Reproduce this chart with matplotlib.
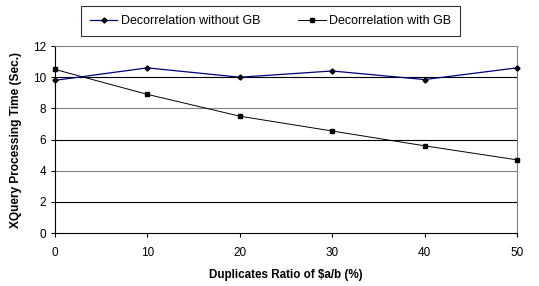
import matplotlib
matplotlib.use("Agg")
import matplotlib.pyplot as plt

plt.rcParams['font.family'] = ['Liberation Sans', 'DejaVu Sans']

ratios = [0, 10, 20, 30, 40, 50]
without_gb = [9.8, 10.6, 10.0, 10.4, 9.85, 10.6]
with_gb = [10.5, 8.9, 7.5, 6.55, 5.6, 4.7]
yticks = [0, 2, 4, 6, 8, 10, 12]

fig = plt.figure(figsize=(5.39, 2.86), dpi=100)
ax = fig.add_axes([0.102, 0.185, 0.857, 0.654])

# horizontal gridlines
for i, y in enumerate(yticks[1:-1]):
    ax.axhline(y, color='black' if i % 2 == 0 else '#808080', lw=0.8, zorder=1)

ax.plot(ratios, without_gb, color='#000080', lw=0.9, marker='D', ms=2.6,
        mfc='black', mec='black', label='Decorrelation without GB', zorder=3, clip_on=False)
ax.plot(ratios, with_gb, color='black', lw=0.7, marker='s', ms=3,
        mfc='black', mec='black', label='Decorrelation with GB', zorder=3, clip_on=False)

ax.set_xlim(0, 50)
ax.set_ylim(0, 12)
ax.set_xticks(ratios)
ax.set_yticks(yticks)
ax.tick_params(labelsize=8.5, length=3, width=0.8, direction='out')
ax.tick_params(axis='x', pad=7)

for s in ['top', 'right']:
    ax.spines[s].set_color('#808080')
for s in ['left', 'bottom']:
    ax.spines[s].set_color('black')

ax.set_xlabel(r'Duplicates Ratio of \$a/b (%)', fontsize=8.4, fontweight='bold', labelpad=7)
ax.set_ylabel('XQuery Processing Time (Sec.)', fontsize=8.6, fontweight='bold', labelpad=8)

leg = fig.legend(loc='center', bbox_to_anchor=(0.502, 0.927), ncol=2, fontsize=9.0,
                 frameon=True, fancybox=False, edgecolor='black', handlelength=2.2,
                 borderpad=0.7, columnspacing=3.0, handletextpad=0.3)
leg.get_frame().set_linewidth(0.8)

fig.savefig('out.png', dpi=100)
